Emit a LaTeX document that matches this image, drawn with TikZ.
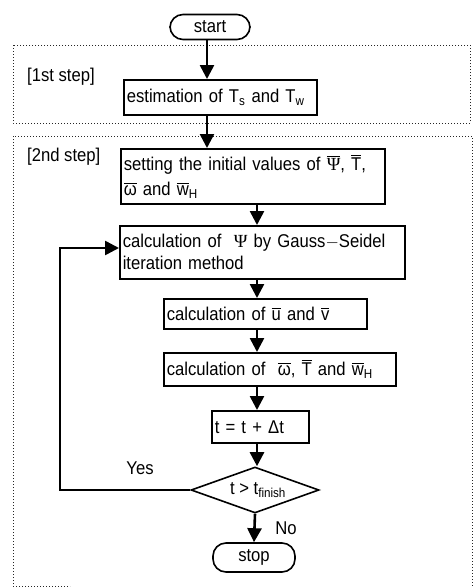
\documentclass[tikz,border=0pt]{standalone}
\usepackage{amsmath}
\usepackage{fontspec}
\setmainfont{Liberation Sans}[FakeStretch=0.9]
\newfontfamily\grserif{Liberation Serif}
\usetikzlibrary{arrows.meta,shapes.geometric,calc}
\newcommand{\olt}[1]{$\overline{\text{#1}}$}
\newcommand{\olwh}{$\overline{\text{w}}_\text{H}$}
\newcommand{\psig}{{\grserif Ψ}}
\begin{document}
\begin{tikzpicture}[x=1pt,y=-1pt,
  font=\fontsize{18.5}{22}\selectfont,
  box/.style={draw, line width=1.6pt, inner xsep=3pt, inner ysep=0pt, anchor=north west, align=left},
  term/.style={draw, line width=1.6pt, rounded corners=13pt, inner sep=0pt},
  arr/.style={line width=2.6pt, -{Triangle[length=14pt,width=14pt]}},
  dot/.style={line width=1pt, dotted, black!85}]
\useasboundingbox (0,0) rectangle (475,587);
% step frames
\draw[dot] (13,45) rectangle (470,123);
\draw[dot] (13,587) -- (13,136) -- (472,136) -- (472,587);
\draw[dot] (13,586) -- (70,586);
\node[anchor=west, inner sep=0pt] (s1) at (27,77) {[1st step]};
\node[anchor=west, inner sep=0pt] (s2) at (27,157) {[2nd step]};
% nodes
\node[term, minimum width=80pt, minimum height=25pt] (start) at (210,27) {start};
\node[box, minimum height=35pt, text width=187pt] (est) at (123,79) {estimation of T\textsubscript{s} and T\textsubscript{w}};
\node[box, minimum height=55pt, text width=258pt, font=\fontsize{18.5}{25}\selectfont] (set) at (120,148) {setting the initial values of $\overline{\text{\psig}}$, \olt{T},\\ \olt{ω} and \olwh};
\node[box, minimum height=53pt, text width=279pt, font=\fontsize{18.5}{22}\selectfont] (psi) at (119,225) {calculation of \ \psig\ by Gauss$-$Seidel\\ iteration method};
\node[box, minimum height=30pt, text width=197pt] (uv) at (163,298) {calculation of \olt{u} and \olt{v}};
\node[box, minimum height=33pt, text width=226pt] (om) at (163,352) {calculation of \ \olt{ω}, \olt{T} and \olwh};
\node[box, minimum height=32pt, text width=91pt] (tt) at (211,410) {t = t + Δt};
\node[draw, line width=1.6pt, diamond, aspect=2.8, inner sep=0pt, minimum width=128pt, minimum height=46pt] (dec) at (255,490) {\hspace*{6pt}t > t\textsubscript{finish}};
\node[term, minimum width=82pt, minimum height=29pt] (stop) at (254,557.5) {stop};
% connectors
\coordinate (c1) at (207,0);
\coordinate (c2) at (257,0);
\draw[arr] (start.south -| c1) -- (est.north -| c1);
\draw[arr] (est.south -| c1) -- (set.north -| c1);
\draw[arr] (set.south -| c2) -- (psi.north -| c2);
\draw[arr] (psi.south -| c2) -- (uv.north -| c2);
\draw[arr] (uv.south -| c2) -- (om.north -| c2);
\draw[arr] (om.south -| c2) -- (tt.north -| c2);
\draw[arr] (tt.south -| c2) -- (dec.north -| c2);
\draw[arr] (dec.south) -- (stop.north);
\coordinate (lpb) at (60,248);
\draw[arr] (dec.west) -| (lpb) -- (psi.west |- lpb);
\node (yes) at (140,468) {Yes};
\node (no) at (286,528) {No};
\end{tikzpicture}
\end{document}
